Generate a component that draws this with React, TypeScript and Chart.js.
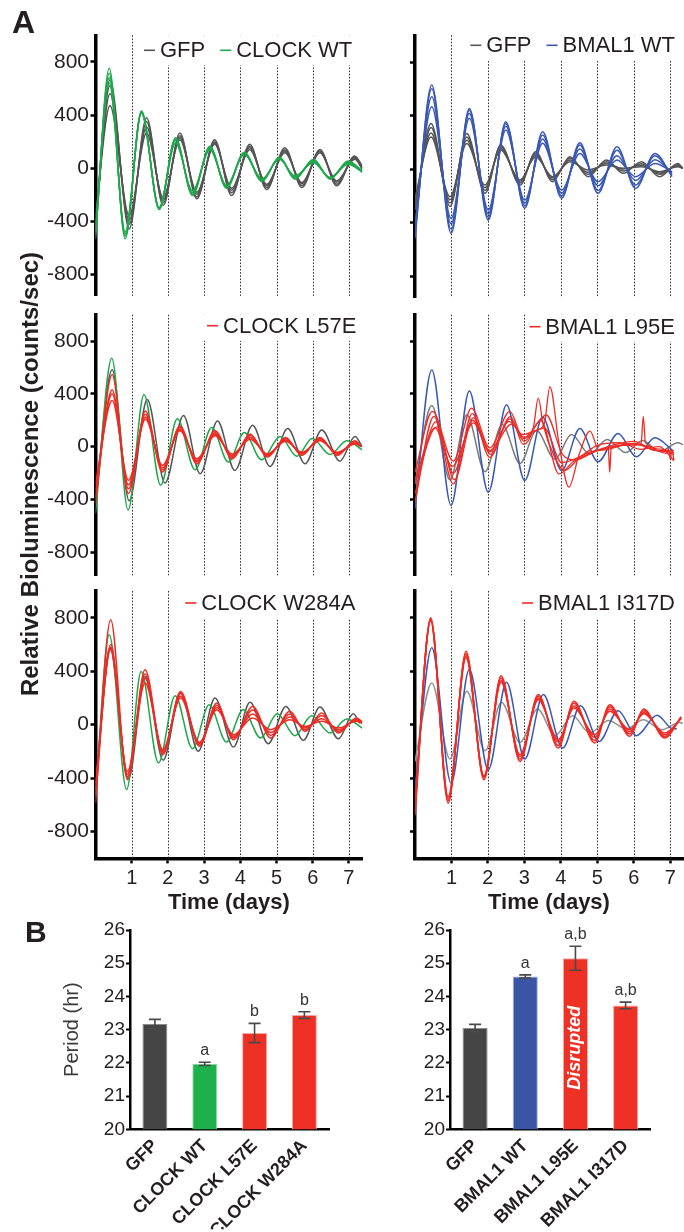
import React, { useEffect, useRef } from 'react';
import { Chart, registerables } from 'chart.js';

Chart.register(...registerables);

const FONT = '"Liberation Sans", Arial, Helvetica, sans-serif';
const INK = '#231f20';
Chart.defaults.font.family = FONT;
Chart.defaults.color = INK;

// ---------- colours ----------
const C_GRAY = '#555555';
const C_GRAY_MID = '#7c7c7c';
const C_GRAY_LIGHT = '#929292';
const C_GREEN = '#1fa84b';
const C_BLUE = '#3a59b5';
const C_RED = '#ee2b24';

// ---------- shared ticks ----------
const dayTicks = [1, 2, 3, 4, 5, 6, 7];
const lineYTicks = [-800, -400, 0, 400, 800];

// ---------- Row 1 left: GFP vs CLOCK WT (4 replicates each) ----------
const T_L1_GFP = [0, 0.40, 0.93, 1.41, 1.87, 2.33, 2.80, 3.29, 3.76, 4.26, 4.73, 5.23, 5.70, 6.20, 6.66, 7.16, 7.37];
const V_L1_GFP = [
  [-480, 665, -456, 380, -280, 265, -230, 215, -205, 180, -160, 155, -145, 142, -132, 92, 17],
  [-430, 620, -420, 350, -260, 245, -215, 200, -185, 165, -145, 140, -130, 130, -120, 85, 5],
  [-400, 560, -390, 310, -240, 230, -195, 190, -165, 155, -130, 130, -115, 122, -105, 75, 0],
  [-360, 470, -356, 265, -220, 215, -180, 180, -150, 140, -120, 117, -107, 117, -95, 67, -7],
];
const T_L1_CLOCK = [0, 0.38, 0.82, 1.27, 1.76, 2.21, 2.68, 3.16, 3.62, 4.11, 4.60, 5.08, 5.51, 6.02, 6.48, 6.98, 7.37];
const V_L1_CLOCK = [
  [-530, 752, -530, 430, -310, 230, -205, 165, -150, 120, -100, 85, -82, 67, -82, 55, -20],
  [-500, 715, -510, 425, -305, 220, -195, 160, -145, 115, -95, 80, -75, 60, -75, 48, -20],
  [-470, 680, -495, 420, -300, 210, -185, 150, -138, 110, -88, 75, -65, 50, -72, 40, -25],
  [-440, 640, -480, 415, -295, 190, -170, 140, -130, 105, -80, 67, -57, 42, -70, 30, -30],
];

// ---------- Row 1 right: GFP vs BMAL1 WT ----------
const T_R1_GFP = [0, 0.44, 0.96, 1.42, 1.92, 2.35, 2.88, 3.31, 3.77, 4.25, 4.75, 5.25, 5.71, 6.21, 6.71, 7.21, 7.35];
const V_R1_GFP = [
  [-306, 340, -280, 266, -182, 180, -120, 130, -95, 92, -57, 67, -32, 55, -57, 42, 5],
  [-280, 310, -255, 240, -160, 170, -105, 118, -80, 80, -40, 55, -15, 40, -40, 32, 5],
  [-250, 270, -230, 215, -140, 155, -92, 105, -68, 68, -25, 42, 0, 28, -30, 25, 5],
  [-220, 240, -207, 190, -120, 142, -82, 92, -57, 55, -7, 30, 5, 17, -20, 17, 5],
];
const T_R1_BMAL = [0, 0.46, 0.99, 1.49, 2.01, 2.49, 3.01, 3.50, 4.02, 4.52, 5.02, 5.54, 6.05, 6.58, 7.05];
const V_R1_BMAL = [
  [-518, 628, -481, 453, -381, 354, -294, 279, -219, 197, -182, 167, -145, 117, -57],
  [-480, 600, -450, 440, -360, 340, -275, 255, -200, 180, -160, 140, -120, 100, -45],
  [-445, 540, -410, 415, -335, 320, -255, 225, -180, 150, -125, 100, -85, 70, -30],
  [-406, 466, -369, 379, -306, 292, -232, 192, -157, 117, -95, 67, -57, 42, -20],
];

// ---------- Row 2 left: CLOCK L57E ----------
const T_L2_GFP = [0, 0.46, 0.93, 1.43, 1.92, 2.43, 2.89, 3.37, 3.85, 4.34, 4.82, 5.31, 5.79, 6.25, 6.75, 7.17, 7.35];
const V_L2_GFP = [-400, 582, -410, 357, -275, 237, -205, 195, -180, 162, -150, 137, -130, 127, -110, 77, 7];
const T_L2_CLOCK = [0, 0.45, 0.90, 1.34, 1.80, 2.26, 2.75, 3.21, 3.67, 4.11, 4.59, 5.10, 5.56, 5.99, 6.48, 6.94, 7.37];
const V_L2_CLOCK = [-505, 670, -480, 395, -292, 212, -175, 145, -117, 107, -100, 77, -72, 62, -60, 45, -25];
const T_L2_L57E = [0, 0.46, 0.91, 1.38, 1.85, 2.33, 2.80, 3.30, 3.78, 4.27, 4.75, 5.25, 5.70, 6.20, 6.68, 7.17, 7.35];
const V_L2_L57E = [
  [-430, 545, -355, 270, -192, 157, -130, 120, -92, 95, -80, 70, -67, 70, -67, 45, 0],
  [-380, 430, -320, 245, -175, 145, -115, 105, -80, 85, -70, 60, -58, 62, -58, 38, 0],
  [-330, 400, -290, 225, -160, 130, -105, 92, -68, 70, -62, 50, -50, 52, -50, 28, 0],
  [-280, 350, -255, 207, -142, 120, -92, 82, -55, 57, -55, 40, -42, 45, -42, 20, 0],
];

// ---------- Row 2 right: BMAL1 L95E ----------
const T_R2_GFP = [0, 0.46, 0.96, 1.42, 1.92, 2.39, 2.88, 3.33, 3.84, 4.29, 4.79, 5.27, 5.78, 6.24, 6.71, 7.21, 7.35];
const V_R2_GFP = [-282, 312, -252, 242, -190, 167, -127, 122, -95, 92, -57, 55, -45, 47, -37, 30, 15];
const T_R2_BMAL = [0, 0.46, 0.99, 1.49, 2.01, 2.51, 3.01, 3.50, 4.02, 4.52, 5.02, 5.57, 6.07, 6.58, 7.08];
const V_R2_BMAL = [-470, 580, -445, 422, -345, 317, -257, 222, -182, 137, -115, 100, -77, 67, -32];
const T_R2_L95E_1 = [0, 0.48, 1.05, 1.55, 2.05, 2.60, 2.97, 3.30, 3.55, 3.70, 3.95, 4.22, 4.50, 4.80, 5.05, 5.30, 5.34, 5.38, 5.70, 6.20, 6.26, 6.32, 6.80, 7.10];
const V_R2_L95E_1 = [-195, 267, -110, 292, -10, 267, 60, 120, 180, 455, 20, -307, -60, 117, -30, -5, -195, -10, 10, 20, 230, 30, -20, -60];
const T_R2_L95E_2 = [0, 0.52, 1.05, 1.57, 2.05, 2.62, 2.97, 3.25, 3.38, 3.52, 3.80, 4.10, 4.50, 5.00, 5.50, 6.00, 6.50, 7.10];
const V_R2_L95E_2 = [-420, 230, -282, 250, -82, 230, 17, 150, 367, 160, -60, -180, -90, -30, 5, 25, -20, -45];
const T_R2_L95E_3 = [0, 0.58, 1.08, 1.60, 2.08, 2.60, 3.00, 3.45, 3.95, 4.35, 4.80, 5.30, 5.90, 6.40, 6.90, 6.95, 7.00, 7.05, 7.10];
const V_R2_L95E_3 = [-357, 190, -250, 220, -60, 210, 40, 200, -207, -110, -40, -20, 20, 0, -50, -15, -90, -30, -100];
const T_R2_L95E_4 = [0, 0.60, 1.05, 1.58, 2.05, 2.58, 2.95, 3.55, 4.02, 4.50, 5.00, 5.60, 6.20, 6.70, 7.10];
const V_R2_L95E_4 = [-282, 150, -200, 200, -40, 192, 92, 140, -120, -80, 10, 30, -20, 0, -107];
const T_R2_L95E_5 = [0, 0.55, 1.02, 1.60, 2.05, 2.65, 3.00, 3.60, 4.05, 4.40, 4.90, 5.40, 6.00, 6.60, 7.10];
const V_R2_L95E_5 = [-250, 142, -150, 180, -30, 170, 70, 240, -60, -100, -40, 10, 40, -30, -30];

// ---------- Row 3 left: CLOCK W284A ----------
const T_L3_GFP = [0, 0.40, 0.91, 1.37, 1.87, 2.35, 2.84, 3.30, 3.81, 4.27, 4.77, 5.26, 5.74, 6.20, 6.71, 7.12, 7.30];
const V_L3_GFP = [-480, 573, -405, 361, -266, 237, -199, 199, -167, 167, -142, 137, -117, 132, -105, 82, 10];
const T_L3_CLOCK = [0, 0.38, 0.86, 1.26, 1.74, 2.20, 2.68, 3.14, 3.62, 4.08, 4.56, 5.02, 5.51, 5.97, 6.48, 6.94, 7.37];
const V_L3_CLOCK = [-520, 672, -485, 398, -286, 217, -179, 149, -129, 112, -100, 82, -82, 67, -62, 42, -25];
const T_L3_W284A = [0, 0.42, 0.88, 1.37, 1.86, 2.35, 2.87, 3.35, 3.81, 4.34, 4.84, 5.37, 5.79, 6.25, 6.71, 7.21, 7.37];
const V_L3_W284A = [
  [-585, 785, -411, 411, -224, 249, -162, 162, -112, 137, -100, 100, -50, 87, -62, 50, 20],
  [-540, 600, -390, 380, -210, 235, -152, 145, -100, 110, -80, 80, -38, 68, -50, 42, 20],
  [-490, 580, -370, 345, -198, 215, -140, 128, -88, 80, -58, 58, -25, 45, -38, 33, 15],
  [-435, 560, -349, 311, -187, 199, -132, 112, -75, 50, -37, 37, -12, 25, -25, 25, 10],
];

// ---------- Row 3 right: BMAL1 I317D ----------
const T_R3_GFP = [0, 0.46, 0.96, 1.42, 1.92, 2.37, 2.88, 3.36, 3.84, 4.32, 4.79, 5.30, 5.80, 6.26, 6.76, 7.26, 7.35];
const V_R3_GFP = [-275, 312, -257, 250, -195, 167, -132, 117, -82, 67, -62, 32, -32, 37, -37, 17, 10];
const T_R3_BMAL = [0, 0.46, 0.99, 1.49, 2.01, 2.51, 3.01, 3.52, 4.05, 4.54, 5.05, 5.57, 6.07, 6.64, 7.08, 7.18];
const V_R3_BMAL = [-475, 575, -437, 412, -337, 317, -257, 225, -175, 142, -125, 105, -82, 70, -32, -30];
const T_R3_I317D = [0, 0.43, 0.91, 1.40, 1.89, 2.36, 2.88, 3.38, 3.93, 4.36, 4.93, 5.34, 5.89, 6.27, 6.85, 7.30];
const V_R3_I317D = [
  [-675, 800, -587, 550, -412, 367, -275, 225, -175, 175, -137, 150, -87, 117, -100, 60],
  [-640, 790, -570, 530, -400, 350, -258, 212, -155, 160, -118, 135, -70, 105, -88, 55],
  [-610, 780, -555, 515, -390, 330, -240, 198, -130, 140, -95, 118, -52, 92, -75, 50],
  [-587, 775, -537, 500, -382, 317, -225, 187, -112, 125, -75, 100, -37, 82, -62, 45],
];

// ---------- Bar charts (Period) ----------
const barTicks = [20, 21, 22, 23, 24, 25, 26];
const clockCats = ['GFP', 'CLOCK WT', 'CLOCK L57E', 'CLOCK W284A'];
const clockMeans = [23.17, 21.97, 22.9, 23.44];
const clockErrs = [0.14, 0.05, 0.29, 0.1];
const clockSig = ['', 'a', 'b', 'b'];
const bmalCats = ['GFP', 'BMAL1 WT', 'BMAL1 L95E', 'BMAL1 I317D'];
const bmalMeans = [23.05, 24.6, 25.15, 23.73];
const bmalErrs = [0.11, 0.05, 0.36, 0.1];
const bmalSig = ['', 'a', 'a,b', 'a,b'];
const bmalNotes = ['', '', 'Disrupted', ''];

// ---------- types ----------
type Trace = { t: number[]; v: number[]; color: string; order: number; width?: number };
type LegendItem = { label: string; color: string };
type PanelCfg = {
  key: string; left: number; top: number; width: number; height: number;
  areaLeft: number; areaTop: number; areaRight: number; areaBottom: number;
  yMin: number; yMax: number; xMax: number; yLabels: boolean; showX: boolean;
  legend: LegendItem[]; legendDy: number; legendInset: number; traces: Trace[];
};

const reps = (t: number[], vs: number[][], color: string, order: number): Trace[] =>
  vs.map((v) => ({ t, v, color, order }));

const X_AXIS_H = 62;

const PANELS: PanelCfg[] = [
  {
    key: 'L1', left: 30, top: 10, width: 340, height: 300,
    areaLeft: 95.5, areaTop: 35.3, areaRight: 362.3, areaBottom: 297.4,
    yMin: -960, yMax: 1000, xMax: 7.37, yLabels: true, showX: false,
    legend: [{ label: 'GFP', color: C_GRAY }, { label: 'CLOCK WT', color: C_GREEN }], legendDy: 15, legendInset: 10,
    traces: [...reps(T_L1_GFP, V_L1_GFP, C_GRAY, 2), ...reps(T_L1_CLOCK, V_L1_CLOCK, C_GREEN, 1)],
  },
  {
    key: 'R1', left: 400, top: 10, width: 284, height: 300,
    areaLeft: 415, areaTop: 35.3, areaRight: 683, areaBottom: 297.4,
    yMin: -960, yMax: 1000, xMax: 7.35, yLabels: false, showX: false,
    legend: [{ label: 'GFP', color: C_GRAY }, { label: 'BMAL1 WT', color: C_BLUE }], legendDy: 10, legendInset: 8,
    traces: [...reps(T_R1_GFP, V_R1_GFP, C_GRAY, 2), ...reps(T_R1_BMAL, V_R1_BMAL, C_BLUE, 1)],
  },
  {
    key: 'L2', left: 30, top: 292, width: 340, height: 298,
    areaLeft: 95.5, areaTop: 314.7, areaRight: 362.3, areaBottom: 575.3,
    yMin: -975, yMax: 1000, xMax: 7.37, yLabels: true, showX: false,
    legend: [{ label: 'CLOCK L57E', color: C_RED }], legendDy: 11, legendInset: 6,
    traces: [
      { t: T_L2_GFP, v: V_L2_GFP, color: C_GRAY, order: 3 },
      { t: T_L2_CLOCK, v: V_L2_CLOCK, color: C_GREEN, order: 2 },
      ...reps(T_L2_L57E, V_L2_L57E, C_RED, 1),
    ],
  },
  {
    key: 'R2', left: 400, top: 292, width: 284, height: 298,
    areaLeft: 415, areaTop: 314.7, areaRight: 683, areaBottom: 575.3,
    yMin: -975, yMax: 1000, xMax: 7.35, yLabels: false, showX: false,
    legend: [{ label: 'BMAL1 L95E', color: C_RED }], legendDy: 12, legendInset: 8,
    traces: [
      { t: T_R2_GFP, v: V_R2_GFP, color: C_GRAY_MID, order: 3 },
      { t: T_R2_BMAL, v: V_R2_BMAL, color: C_BLUE, order: 2 },
      { t: T_R2_L95E_1, v: V_R2_L95E_1, color: C_RED, order: 1, width: 1.3 },
      { t: T_R2_L95E_2, v: V_R2_L95E_2, color: C_RED, order: 1, width: 1.3 },
      { t: T_R2_L95E_3, v: V_R2_L95E_3, color: C_RED, order: 1, width: 1.3 },
      { t: T_R2_L95E_4, v: V_R2_L95E_4, color: C_RED, order: 1, width: 1.3 },
      { t: T_R2_L95E_5, v: V_R2_L95E_5, color: C_RED, order: 1, width: 1.3 },
    ],
  },
  {
    key: 'L3', left: 30, top: 571, width: 340, height: 355,
    areaLeft: 95.5, areaTop: 591, areaRight: 362.3, areaBottom: 858.4,
    yMin: -1000, yMax: 1000, xMax: 7.37, yLabels: true, showX: true,
    legend: [{ label: 'CLOCK W284A', color: C_RED }], legendDy: 12, legendInset: 7,
    traces: [
      { t: T_L3_GFP, v: V_L3_GFP, color: C_GRAY, order: 3 },
      { t: T_L3_CLOCK, v: V_L3_CLOCK, color: C_GREEN, order: 2 },
      ...reps(T_L3_W284A, V_L3_W284A, C_RED, 1),
    ],
  },
  {
    key: 'R3', left: 400, top: 571, width: 284, height: 355,
    areaLeft: 415, areaTop: 591, areaRight: 683, areaBottom: 858.4,
    yMin: -1000, yMax: 1000, xMax: 7.35, yLabels: false, showX: true,
    legend: [{ label: 'BMAL1 I317D', color: C_RED }], legendDy: 12, legendInset: 8,
    traces: [
      { t: T_R3_GFP, v: V_R3_GFP, color: C_GRAY_LIGHT, order: 3 },
      { t: T_R3_BMAL, v: V_R3_BMAL, color: C_BLUE, order: 2 },
      ...reps(T_R3_I317D, V_R3_I317D, C_RED, 1),
    ],
  },
];

// ---------- plugins ----------
const panelDecor = {
  id: 'panelDecor',
  beforeDatasetsDraw(chart: any, _args: any, opts: any) {
    const { ctx, chartArea } = chart;
    const xs = chart.scales.x;
    ctx.save();
    ctx.strokeStyle = '#333';
    ctx.lineWidth = 1;
    ctx.setLineDash([1.6, 1.6]);
    for (const d of opts.days as number[]) {
      const x = Math.round(xs.getPixelForValue(d)) + 0.5;
      ctx.beginPath();
      ctx.moveTo(x, chartArea.top);
      ctx.lineTo(x, chartArea.bottom);
      ctx.stroke();
    }
    ctx.setLineDash([]);
    const items = opts.items as LegendItem[];
    ctx.font = `22px ${FONT}`;
    const dash = 11, gap = 5, itemGap = 15;
    let total = 0;
    items.forEach((it, i) => {
      total += dash + gap + ctx.measureText(it.label).width + (i ? itemGap : 0);
    });
    let x = chartArea.right - opts.inset - total;
    const cy = chartArea.top + opts.dy;
    ctx.fillStyle = '#fff';
    ctx.fillRect(x - 4, chartArea.top, chartArea.right - (x - 4), opts.dy + 15);
    ctx.textBaseline = 'middle';
    ctx.textAlign = 'left';
    items.forEach((it, i) => {
      if (i) x += itemGap;
      ctx.strokeStyle = it.color;
      ctx.lineWidth = 1.6;
      ctx.beginPath();
      ctx.moveTo(x, cy);
      ctx.lineTo(x + dash, cy);
      ctx.stroke();
      x += dash + gap;
      ctx.fillStyle = INK;
      ctx.fillText(it.label, x, cy + 1);
      x += ctx.measureText(it.label).width;
    });
    ctx.restore();
  },
};

const barDecor = {
  id: 'barDecor',
  afterDatasetsDraw(chart: any, _args: any, opts: any) {
    const { ctx } = chart;
    const ys = chart.scales.y;
    const meta = chart.getDatasetMeta(0);
    const means: number[] = opts.means;
    const errs: number[] = opts.errs;
    const sigs: string[] = opts.sig;
    const notes: string[] = opts.notes || [];
    ctx.save();
    meta.data.forEach((bar: any, i: number) => {
      const m = means[i];
      const e = errs[i];
      const yt = ys.getPixelForValue(m + e);
      const yb = ys.getPixelForValue(m - e);
      ctx.strokeStyle = '#4a4a4a';
      ctx.lineWidth = 1.6;
      ctx.beginPath();
      ctx.moveTo(bar.x, yt); ctx.lineTo(bar.x, yb);
      ctx.moveTo(bar.x - 6, yt); ctx.lineTo(bar.x + 6, yt);
      ctx.moveTo(bar.x - 6, yb); ctx.lineTo(bar.x + 6, yb);
      ctx.stroke();
      const sig = sigs[i];
      if (sig) {
        ctx.fillStyle = '#333';
        ctx.font = `16px ${FONT}`;
        ctx.textAlign = 'center';
        ctx.textBaseline = 'alphabetic';
        ctx.fillText(sig, bar.x, yt - 7);
      }
      const note = notes[i];
      if (note) {
        const yc = (ys.getPixelForValue(m) + ys.bottom) / 2 + 4;
        ctx.save();
        ctx.translate(bar.x, yc);
        ctx.rotate(-Math.PI / 2);
        ctx.font = `italic bold 18px ${FONT}`;
        ctx.fillStyle = '#ffffff';
        ctx.textAlign = 'center';
        ctx.textBaseline = 'middle';
        ctx.fillText(note, 0, 0);
        ctx.restore();
      }
    });
    ctx.restore();
  },
};

// ---------- line panel ----------
function buildLineConfig(cfg: PanelCfg): any {
  const xH = cfg.showX ? X_AXIS_H : 0;
  return {
    type: 'line',
    data: {
      datasets: cfg.traces.map((tr) => ({
        data: tr.t.map((x, i) => ({ x, y: tr.v[i] })),
        borderColor: tr.color,
        borderWidth: tr.width ?? 1.5,
        pointRadius: 0,
        fill: false,
        cubicInterpolationMode: 'monotone',
        order: tr.order,
      })),
    },
    options: {
      responsive: false,
      animation: false,
      devicePixelRatio: 1,
      events: [],
      layout: {
        padding: {
          left: 0,
          top: cfg.areaTop - cfg.top,
          right: cfg.left + cfg.width - cfg.areaRight,
          bottom: cfg.top + cfg.height - cfg.areaBottom - xH,
        },
      },
      plugins: {
        legend: { display: false },
        tooltip: { enabled: false },
        panelDecor: { days: dayTicks, items: cfg.legend, dy: cfg.legendDy, inset: cfg.legendInset },
      },
      scales: {
        x: {
          type: 'linear',
          min: 0,
          max: cfg.xMax,
          display: cfg.showX,
          afterBuildTicks: (s: any) => { s.ticks = dayTicks.map((v) => ({ value: v })); },
          afterFit: (s: any) => { s.height = xH; },
          grid: { drawOnChartArea: false, color: '#000', tickColor: '#000', tickLength: 5, tickWidth: 2.5 },
          border: { display: true, width: 3.5, color: '#000' },
          ticks: {
            font: { size: 20, family: FONT }, color: INK, padding: 3,
            maxRotation: 0, autoSkip: false, callback: (v: any) => String(v),
          },
          title: {
            display: true, text: 'Time (days)', color: INK,
            font: { size: 22, weight: 'bold', family: FONT }, padding: { top: 4, bottom: 4 },
          },
        },
        y: {
          type: 'linear',
          min: cfg.yMin,
          max: cfg.yMax,
          afterBuildTicks: (s: any) => { s.ticks = lineYTicks.map((v) => ({ value: v })); },
          afterFit: (s: any) => { s.width = cfg.areaLeft - cfg.left; },
          grid: { drawOnChartArea: false, color: '#000', tickColor: '#000', tickLength: 5, tickWidth: 2.5 },
          border: { display: true, width: 3.5, color: '#000' },
          ticks: {
            display: cfg.yLabels, font: { size: 21, family: FONT }, color: INK, padding: 1.5,
            callback: (v: any) => String(v),
          },
        },
      },
    },
    plugins: [panelDecor],
  };
}

function LinePanel({ cfg }: { cfg: PanelCfg }) {
  const ref = useRef<HTMLCanvasElement>(null);
  useEffect(() => {
    if (!ref.current) return;
    const chart = new Chart(ref.current, buildLineConfig(cfg));
    return () => chart.destroy();
  }, [cfg]);
  return (
    <canvas
      ref={ref}
      width={cfg.width}
      height={cfg.height}
      style={{ position: 'absolute', left: cfg.left, top: cfg.top, width: cfg.width, height: cfg.height }}
    />
  );
}

// ---------- bar panel ----------
type BarCfg = {
  key: string; left: number; top: number; width: number; height: number;
  areaLeft: number; areaTop: number; areaRight: number; areaBottom: number;
  cats: string[]; means: number[]; errs: number[]; sig: string[]; notes: string[];
  colors: string[]; borders: string[]; title: string;
};

const BAR_X_H = 100;

const BARS: BarCfg[] = [
  {
    key: 'BL', left: 40, top: 905, width: 300, height: 327,
    areaLeft: 130, areaTop: 930, areaRight: 329.3, areaBottom: 1129.3,
    cats: clockCats, means: clockMeans, errs: clockErrs, sig: clockSig, notes: ['', '', '', ''],
    colors: ['#454545', '#1eb04c', '#ee3124', '#ee3124'],
    borders: ['#8a8a8a', '#8fdca8', '#f7aaa3', '#f7aaa3'],
    title: 'Period (hr)',
  },
  {
    key: 'BR', left: 400, top: 905, width: 260, height: 327,
    areaLeft: 450, areaTop: 930, areaRight: 650.7, areaBottom: 1129.3,
    cats: bmalCats, means: bmalMeans, errs: bmalErrs, sig: bmalSig, notes: bmalNotes,
    colors: ['#454545', '#3b55a6', '#ee3124', '#ee3124'],
    borders: ['#8a8a8a', '#9aa9dc', '#f7aaa3', '#f7aaa3'],
    title: '',
  },
];

function buildBarConfig(cfg: BarCfg): any {
  return {
    type: 'bar',
    data: {
      labels: cfg.cats,
      datasets: [{
        data: cfg.means,
        backgroundColor: cfg.colors,
        borderColor: cfg.borders,
        borderWidth: 1,
        barPercentage: 1,
        categoryPercentage: 0.5,
      }],
    },
    options: {
      responsive: false,
      animation: false,
      devicePixelRatio: 1,
      events: [],
      layout: {
        padding: {
          left: 0,
          top: cfg.areaTop - cfg.top,
          right: cfg.left + cfg.width - cfg.areaRight,
          bottom: cfg.top + cfg.height - cfg.areaBottom - BAR_X_H,
        },
      },
      plugins: {
        legend: { display: false },
        tooltip: { enabled: false },
        barDecor: { means: cfg.means, errs: cfg.errs, sig: cfg.sig, notes: cfg.notes },
      },
      scales: {
        x: {
          afterFit: (s: any) => { s.height = BAR_X_H; },
          grid: { drawOnChartArea: false, drawTicks: false },
          border: { display: true, width: 2.5, color: '#000' },
          ticks: {
            font: { size: 18, weight: 'bold', family: FONT }, color: INK,
            minRotation: 45, maxRotation: 45, padding: 6, autoSkip: false,
          },
        },
        y: {
          min: 20,
          max: 26,
          afterBuildTicks: (s: any) => { s.ticks = barTicks.map((v) => ({ value: v })); },
          afterFit: (s: any) => { s.width = cfg.areaLeft - cfg.left; },
          grid: { drawOnChartArea: false, color: '#000', tickColor: '#000', tickLength: 4, tickWidth: 2 },
          border: { display: true, width: 2.5, color: '#000' },
          ticks: { font: { size: 19, family: FONT }, color: INK, padding: 1, callback: (v: any) => String(v) },
          title: {
            display: !!cfg.title, text: cfg.title, color: '#3a3a3a',
            font: { size: 20, family: FONT }, padding: { top: 20, bottom: 4 },
          },
        },
      },
    },
    plugins: [barDecor],
  };
}

function BarPanel({ cfg }: { cfg: BarCfg }) {
  const ref = useRef<HTMLCanvasElement>(null);
  useEffect(() => {
    if (!ref.current) return;
    const chart = new Chart(ref.current, buildBarConfig(cfg));
    return () => chart.destroy();
  }, [cfg]);
  return (
    <canvas
      ref={ref}
      width={cfg.width}
      height={cfg.height}
      style={{ position: 'absolute', left: cfg.left, top: cfg.top, width: cfg.width, height: cfg.height }}
    />
  );
}

export default function App() {
  return (
    <div
      style={{
        position: 'absolute', left: 0, top: 0, width: 684, height: 1232,
        background: '#fff', overflow: 'hidden', fontFamily: FONT, color: INK,
      }}
    >
      {PANELS.map((p) => <LinePanel key={p.key} cfg={p} />)}
      {BARS.map((b) => <BarPanel key={b.key} cfg={b} />)}
      <div style={{ position: 'absolute', left: 12, top: 4, font: `bold 32px ${FONT}`, lineHeight: '36px' }}>A</div>
      <div style={{ position: 'absolute', left: 25, top: 914, font: `bold 30px ${FONT}`, lineHeight: '36px' }}>B</div>
      <div
        style={{
          position: 'absolute', left: 29.7 - 240, top: 473.7 - 14, width: 480, height: 28,
          lineHeight: '28px', textAlign: 'center', font: `bold 24px ${FONT}`, whiteSpace: 'nowrap',
          transform: 'rotate(-90deg)', transformOrigin: '50% 50%',
        }}
      >
        Relative Bioluminescence (counts/sec)
      </div>
    </div>
  );
}
